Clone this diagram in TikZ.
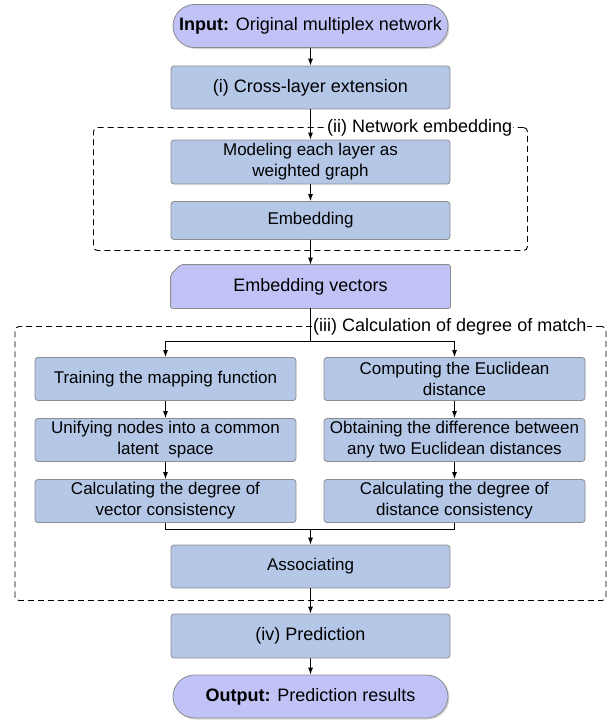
\documentclass[tikz,border=0pt]{standalone}
\usepackage{fontspec}
\setmainfont{Liberation Sans}
\usetikzlibrary{shadows,shapes.misc,arrows.meta,backgrounds}
\definecolor{boxBlue}{RGB}{180,199,231}
\definecolor{termLilac}{RGB}{193,195,247}
\definecolor{edgeGray}{RGB}{140,140,140}

\begin{document}
\begin{tikzpicture}[
  x=1pt, y=-1pt,
  baseBox/.style={draw=edgeGray, line width=0.8pt, align=center, inner sep=2pt, minimum width=279pt, minimum height=43pt},
  stepBox/.style={baseBox, fill=boxBlue, rounded corners=3pt, font=\fontsize{18}{21}\selectfont},
  innerBox/.style={stepBox, font=\fontsize{17}{21}\selectfont},
  colBox/.style={innerBox, minimum width=261pt},
  termBox/.style={baseBox, fill=termLilac, rounded rectangle, font=\fontsize{18}{21}\selectfont, drop shadow={shadow xshift=1.5pt, shadow yshift=-1.5pt, fill=black!30}},
  dataBox/.style={baseBox, draw=none, font=\fontsize{18}{21}\selectfont},
  dataShape/.style={draw=edgeGray, fill=termLilac, line width=0.8pt, rounded corners=2pt},
  groupBox/.style={draw=black, dash pattern=on 6pt off 4pt, line width=0.9pt, rounded corners=4pt, inner sep=0pt},
  groupLabel/.style={fill=white, inner sep=1pt, anchor=west, font=\fontsize{18}{21}\selectfont},
  flowLine/.style={line width=0.9pt},
  flowArrow/.style={flowLine, -{Latex[length=7pt,width=5pt]}}]

\useasboundingbox (0,0) rectangle (616,721);

\node [groupBox, minimum width=434pt, minimum height=123pt] (netGroup) at (310.5,189) {};
\node [groupLabel] (netLabel) at (326,127.5) {(ii) Network embedding};
\node [groupBox, minimum width=591pt, minimum height=274pt] (matchGroup) at (310.5,463.5) {};
\node [groupLabel] (matchLabel) at (312,326.5) {(iii) Calculation of degree of match};

\node [termBox] (input) at (310.5,26) {\textbf{Input:} Original multiplex network};
\node [stepBox] (cross) at (310.5,87.5) {(i) Cross-layer extension};
\node [innerBox, minimum height=44pt] (model) at (310.5,162) {Modeling each layer as\\weighted graph};
\node [innerBox, minimum height=38pt] (embed) at (310.5,220.5) {Embedding};
\node [dataBox] (vectors) at (310.5,286.5) {Embedding vectors};
\begin{pgfonlayer}{background}
\draw [dataShape] ([yshift=-10pt]vectors.north west) -- ([xshift=10pt]vectors.north west) -- (vectors.north east) -- (vectors.south east) -- (vectors.south west) -- cycle;
\end{pgfonlayer}

\node [colBox] (train) at (165.5,379) {Training the mapping function};
\node [colBox] (unify) at (165.5,440) {Unifying nodes into a common\\latent\ \ space};
\node [colBox] (vcons) at (165.5,501) {Calculating the degree of\\vector consistency};
\node [colBox] (euclid) at (454.5,379) {Computing the Euclidean\\distance};
\node [colBox] (diff) at (454.5,440) {Obtaining the difference between\\any two Euclidean distances};
\node [colBox] (dcons) at (454.5,501) {Calculating the degree of\\distance consistency};

\node [innerBox] (assoc) at (310.5,566.5) {Associating};
\node [stepBox, minimum height=44pt] (pred) at (310.5,636) {(iv) Prediction};
\node [termBox] (output) at (310.5,696.5) {\textbf{Output:} Prediction results};

\coordinate (split) at (310.5,341.7);
\coordinate (merge) at (310.5,529.3);

\draw [flowArrow] (input) -- (cross);
\draw [flowArrow] (cross) -- (model);
\draw [flowArrow] (model) -- (embed);
\draw [flowArrow] (embed) -- (vectors);
\draw [flowLine] (vectors) -- (split);
\draw [flowArrow] (split) -| (train);
\draw [flowArrow] (split) -| (euclid);
\draw [flowArrow] (train) -- (unify);
\draw [flowArrow] (unify) -- (vcons);
\draw [flowArrow] (euclid) -- (diff);
\draw [flowArrow] (diff) -- (dcons);
\draw [flowLine] (vcons) |- (merge) -| (dcons);
\draw [flowArrow] (merge) -- (assoc);
\draw [flowArrow] (assoc) -- (pred);
\draw [flowArrow] (pred) -- (output);
\end{tikzpicture}
\end{document}
